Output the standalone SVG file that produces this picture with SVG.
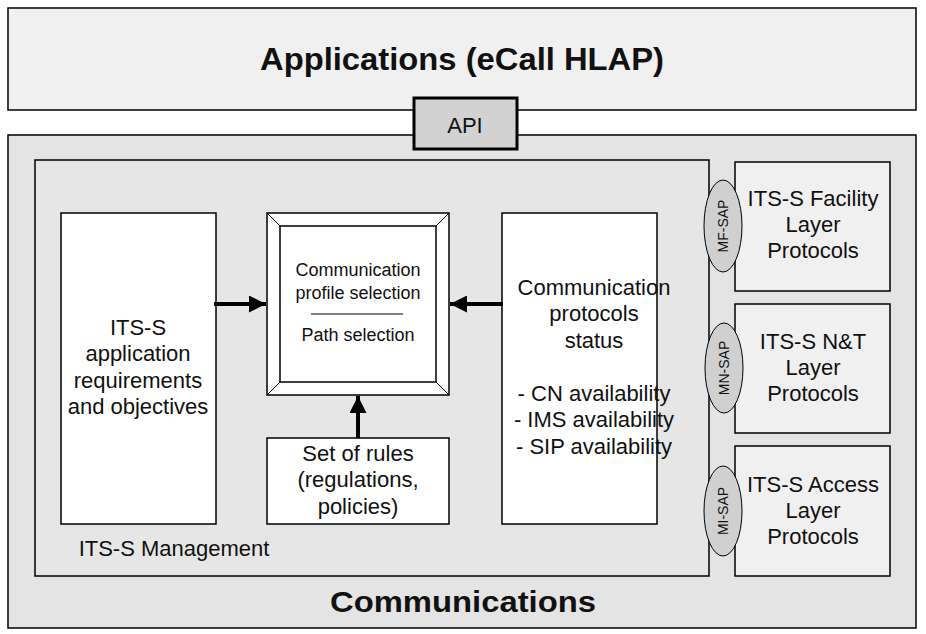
<svg xmlns="http://www.w3.org/2000/svg" width="926" height="634" viewBox="0 0 926 634">
<defs>
<style>
text{font-family:"Liberation Sans",Arial,sans-serif;fill:#111;text-anchor:middle}
.b{stroke:#000;stroke-width:1.5}
.t20{font-size:22px}
.t16{font-size:18px}
.sap{font-size:14px}
.conn{stroke:#000;stroke-width:4;fill:none}
</style>
<marker id="ah" viewBox="0 0 10 10" refX="10" refY="5" markerUnits="userSpaceOnUse" markerWidth="26" markerHeight="17" orient="auto">
<path d="M0,0 L10,5 L0,10 z" fill="#000"/>
</marker>
</defs>
<rect width="926" height="634" fill="#fff"/>
<g id="applications">
<rect x="8" y="8" width="908" height="102" fill="#f0f0f0" class="b"/>
<text x="462" y="70" style="font-size:31px;font-weight:bold" textLength="404" lengthAdjust="spacingAndGlyphs">Applications (eCall HLAP)</text>
</g>
<g id="communications">
<rect x="8" y="135" width="908" height="493" fill="#e4e4e4" class="b"/>
<text x="463" y="612" style="font-size:30px;font-weight:bold" textLength="266" lengthAdjust="spacingAndGlyphs">Communications</text>
</g>
<g id="api">
<rect x="414" y="98" width="103" height="51" fill="#d2d2d2" stroke="#000" stroke-width="3"/>
<text x="465" y="133" class="t20">API</text>
</g>
<g id="management">
<rect x="35" y="160" width="674" height="416" fill="#e6e6e6" class="b"/>
<text x="174" y="556" class="t20">ITS-S Management</text>
</g>
<g id="requirements">
<rect x="61" y="213" width="155" height="311" fill="#fff" class="b"/>
<text x="138" y="335" class="t20">ITS-S</text>
<text x="138" y="361" class="t20">application</text>
<text x="138" y="388" class="t20">requirements</text>
<text x="138" y="414" class="t20">and objectives</text>
</g>
<g id="selection">
<rect x="267" y="213" width="182" height="182" fill="#fff" class="b"/>
<rect x="280" y="226" width="156" height="156" fill="#fff" class="b"/>
<path d="M267,213 L280,226 M449,213 L436,226 M267,395 L280,382 M449,395 L436,382" stroke="#000" stroke-width="1"/>
<text x="358" y="276" class="t16">Communication</text>
<text x="358" y="299" class="t16">profile selection</text>
<line x1="311" y1="314" x2="403" y2="314" stroke="#000" stroke-width="1.2"/>
<text x="358" y="341" class="t16">Path selection</text>
</g>
<g id="rules">
<rect x="267" y="438" width="182" height="86" fill="#fff" class="b"/>
<text x="358" y="461" class="t20">Set of rules</text>
<text x="358" y="487" class="t20">(regulations,</text>
<text x="358" y="514" class="t20">policies)</text>
</g>
<g id="status">
<rect x="502" y="213" width="155" height="311" fill="#fff" class="b"/>
<text x="594" y="295" class="t20">Communication</text>
<text x="594" y="321" class="t20">protocols</text>
<text x="594" y="348" class="t20">status</text>
<text x="594" y="401" class="t20">- CN availability</text>
<text x="594" y="427" class="t20">- IMS availability</text>
<text x="594" y="454" class="t20">- SIP availability</text>
</g>
<g id="facility">
<rect x="735" y="162" width="155" height="129" fill="#f0f0f0" class="b"/>
<text x="813" y="206" class="t20">ITS-S Facility</text>
<text x="813" y="232" class="t20">Layer</text>
<text x="813" y="258" class="t20">Protocols</text>
</g>
<g id="nt">
<rect x="735" y="304" width="155" height="129" fill="#f0f0f0" class="b"/>
<text x="813" y="349" class="t20">ITS-S N&amp;T</text>
<text x="813" y="375" class="t20">Layer</text>
<text x="813" y="401" class="t20">Protocols</text>
</g>
<g id="access">
<rect x="735" y="446" width="155" height="130" fill="#f0f0f0" class="b"/>
<text x="813" y="492" class="t20">ITS-S Access</text>
<text x="813" y="518" class="t20">Layer</text>
<text x="813" y="544" class="t20">Protocols</text>
</g>
<g id="mf-sap">
<ellipse cx="723" cy="226" rx="19" ry="46" fill="#d0d0d0" stroke="#000" stroke-width="1"/>
<text x="0" y="0" class="sap" transform="translate(728,226) rotate(-90)">MF-SAP</text>
</g>
<g id="mn-sap">
<ellipse cx="724" cy="368" rx="19" ry="45" fill="#d0d0d0" stroke="#000" stroke-width="1"/>
<text x="0" y="0" class="sap" transform="translate(729,368) rotate(-90)">MN-SAP</text>
</g>
<g id="mi-sap">
<ellipse cx="723" cy="511" rx="19" ry="45" fill="#d0d0d0" stroke="#000" stroke-width="1"/>
<text x="0" y="0" class="sap" transform="translate(728,511) rotate(-90)">MI-SAP</text>
</g>
<g id="connectors">
<line x1="214" y1="304" x2="266" y2="304" class="conn" marker-end="url(#ah)"/>
<line x1="503" y1="304" x2="450" y2="304" class="conn" marker-end="url(#ah)"/>
<line x1="358" y1="438" x2="358" y2="396" class="conn" marker-end="url(#ah)"/>
</g>
</svg>
